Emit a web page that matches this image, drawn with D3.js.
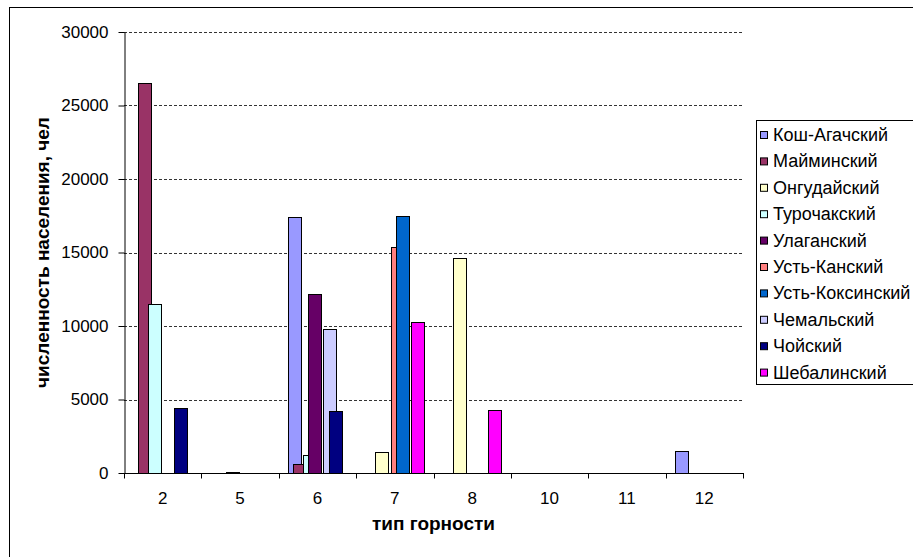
<!DOCTYPE html>
<html>
<head>
<meta charset="utf-8">
<script src="https://cdn.jsdelivr.net/npm/d3@7"></script>
<style>
  html, body { margin: 0; padding: 0; background: #fff; }
  svg { display: block; font-family: "Liberation Sans", Arial, sans-serif; }
</style>
</head>
<body>
<svg id="chart" width="913" height="557"></svg>
<script>
// Population by relief type for the districts of the Altai Republic
const categories = ["2", "5", "6", "7", "8", "10", "11", "12"];
const seriesNames = [
  "Кош-Агачский", "Майминский", "Онгудайский", "Турочакский", "Улаганский",
  "Усть-Канский", "Усть-Коксинский", "Чемальский", "Чойский", "Шебалинский"
];
const koshAgach   = [null, null, 17400, null, null, null, null, 1500];
const maima       = [26500, null, 600, null, null, null, null, null];
const ongudai     = [null, null, null, 1400, 14600, null, null, null];
const turochak    = [11500, 100, 1200, null, null, null, null, null];
const ulagan      = [null, null, 12150, null, null, null, null, null];
const ustKan      = [null, null, null, 15400, null, null, null, null];
const ustKoksa    = [null, null, null, 17450, null, null, null, null];
const chemal      = [null, null, 9780, null, null, null, null, null];
const choya       = [4450, null, 4200, null, null, null, null, null];
const shebalino   = [null, null, null, 10300, 4300, null, null, null];
const seriesValues = [koshAgach, maima, ongudai, turochak, ulagan, ustKan, ustKoksa, chemal, choya, shebalino];
const seriesColors = ["#9999FF", "#993366", "#FFFFCC", "#CCFFFF", "#660066",
                      "#FF8080", "#0066CC", "#CCCCFF", "#000080", "#FF00FF"];
const yTicks = [0, 5000, 10000, 15000, 20000, 25000, 30000];
const xTitle = "тип горности";
const yTitle = "численность населения, чел";

const svg = d3.select("#chart");
const plot = { left: 124, right: 743, top: 32, bottom: 473 };

// outer chart frame (runs past the canvas on the right and bottom)
svg.append("rect")
  .attr("x", 9.5).attr("y", 7.5).attr("width", 1000).attr("height", 700)
  .attr("fill", "#fff").attr("stroke", "#000").attr("stroke-width", 1);

const x = d3.scaleBand().domain(categories).range([plot.left, plot.right]).padding(0);
const y = d3.scaleLinear().domain([0, 30000]).range([plot.bottom, plot.top]);

// overlapping clustered bars: each series shifts by a fraction of a bar
const bw = x.bandwidth();
const barW = bw * 0.174;
const seriesX = d3.scaleLinear().domain([0, seriesNames.length - 1])
  .range([bw * 0.116, bw * 0.116 + (seriesNames.length - 1) * bw * 0.066]);

// dashed gridlines
svg.append("g").selectAll("line")
  .data(yTicks.filter(d => d > 0))
  .join("line")
  .attr("x1", plot.left).attr("x2", plot.right)
  .attr("y1", d => Math.round(y(d)) + 0.5).attr("y2", d => Math.round(y(d)) + 0.5)
  .attr("stroke", "#333").attr("stroke-width", 1).attr("stroke-dasharray", "3,2");

// bars, later series drawn over earlier ones
const bars = svg.append("g");
seriesValues.forEach((vals, si) => {
  bars.append("g")
    .selectAll("rect")
    .data(vals.map((v, ci) => ({ v, c: categories[ci] })).filter(d => d.v !== null))
    .join("rect")
    .attr("x", d => Math.round(x(d.c) + seriesX(si)) + 0.5)
    .attr("y", d => Math.round(y(d.v)) + 0.5)
    .attr("width", Math.round(barW))
    .attr("height", d => Math.round(y(0)) - Math.round(y(d.v)))
    .attr("fill", seriesColors[si])
    .attr("stroke", "#000").attr("stroke-width", 1);
});

// y axis
const yAxis = svg.append("g")
  .attr("transform", `translate(${plot.left + 0.5},0)`)
  .call(d3.axisLeft(y).tickValues(yTicks).tickSize(6).tickSizeOuter(0).tickPadding(10).tickFormat(d3.format("d")));
yAxis.select(".domain").attr("stroke", "#000");
yAxis.selectAll(".tick line").attr("stroke", "#000");
yAxis.selectAll(".tick text")
  .attr("font-size", 17).attr("fill", "#000")
  .attr("font-family", "'Liberation Sans', Arial, sans-serif");

// x axis: ticks at category boundaries
const xAxisG = svg.append("g").attr("transform", `translate(0,${plot.bottom + 0.5})`);
xAxisG.append("line")
  .attr("x1", plot.left).attr("x2", plot.right + 1)
  .attr("stroke", "#000");
const bounds = categories.map(c => x(c)).concat([plot.right]);
xAxisG.selectAll("line.tk").data(bounds).join("line").attr("class", "tk")
  .attr("x1", d => Math.round(d) + 0.5).attr("x2", d => Math.round(d) + 0.5)
  .attr("y1", 0).attr("y2", 5).attr("stroke", "#000");
xAxisG.selectAll("text").data(categories).join("text")
  .attr("x", d => x(d) + bw / 2).attr("y", 25)
  .attr("text-anchor", "middle").attr("dominant-baseline", "central")
  .attr("font-size", 17).attr("fill", "#000")
  .text(d => d);

// axis titles
svg.append("text")
  .attr("x", (plot.left + plot.right) / 2).attr("y", 523)
  .attr("text-anchor", "middle").attr("dominant-baseline", "central")
  .attr("font-size", 19).attr("font-weight", "bold")
  .text(xTitle);
svg.append("text")
  .attr("transform", `translate(42,${(plot.top + plot.bottom) / 2}) rotate(-90)`)
  .attr("text-anchor", "middle").attr("dominant-baseline", "central")
  .attr("font-size", 19).attr("font-weight", "bold")
  .text(yTitle);

// legend
const legend = svg.append("g").attr("transform", "translate(756,120)");
legend.append("rect")
  .attr("x", 0.5).attr("y", 0.5).attr("width", 300).attr("height", 264)
  .attr("fill", "#fff").attr("stroke", "#000");
const items = legend.selectAll("g.item").data(seriesNames).join("g").attr("class", "item")
  .attr("transform", (d, i) => `translate(0,${15 + i * 26.4})`);
items.append("rect")
  .attr("x", 4.5).attr("y", -3.5).attr("width", 7).attr("height", 7)
  .attr("fill", (d, i) => seriesColors[i]).attr("stroke", "#000");
items.append("text")
  .attr("x", 17).attr("y", 0).attr("dominant-baseline", "central")
  .attr("font-size", 18).attr("fill", "#000")
  .text(d => d);
</script>
</body>
</html>
